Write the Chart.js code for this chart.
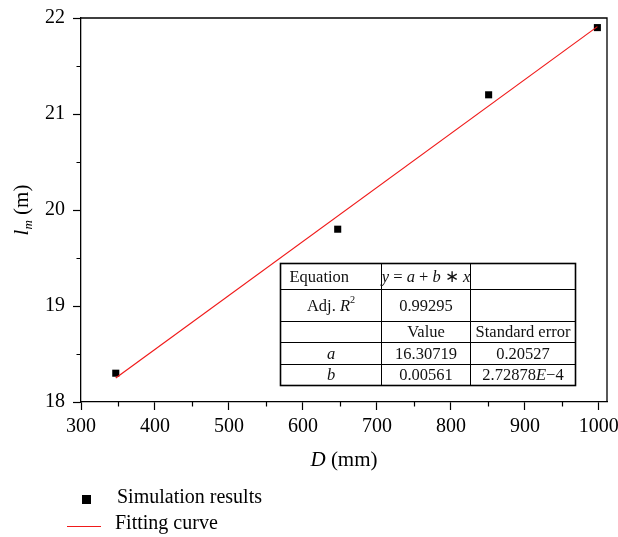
<!DOCTYPE html>
<html>
<head>
<meta charset="utf-8">
<script src="https://cdn.jsdelivr.net/npm/chart.js@4/dist/chart.umd.min.js"></script>
<style>
  html, body { margin: 0; padding: 0; background: #fff; }
  #wrap { width: 618px; height: 537px; }
</style>
</head>
<body>
<div id="wrap"><canvas id="chart1"></canvas></div>
<script>
// simulation points, D (mm) vs l_m (m)
const simD = [347, 647, 851, 998];
const simL = [18.3, 19.8, 21.2, 21.9];
// fitted line end points
const fitD = [347, 998];
const fitL = [18.25, 21.91];
// axis ticks
const xTicks = [300, 400, 500, 600, 700, 800, 900, 1000];
const xMinor = [350, 450, 550, 650, 750, 850, 950];
const yTicks = [18, 19, 20, 21, 22];
const yMinor = [18.5, 19.5, 20.5, 21.5];
// fit table text, runs: [text, italic, sup]
const tableRows = [
    [[['Equation']], [['y', 1], [' = '], ['a', 1], [' + '], ['b', 1], [' \u2217 '], ['x', 1]], []],
    [[['Adj. '], ['R', 1], ['2', 0, 1]], [['0.99295']], []],
    [[], [['Value']], [['Standard error']]],
    [[['a', 1]], [['16.30719']], [['0.20527']]],
    [[['b', 1]], [['0.00561']], [['2.72878'], ['E', 1], ['\u22124']]]
];

const SERIF = '"Liberation Serif", "Times New Roman", serif';

function runFont(r, size) {
    let s = r[2] ? size * 0.62 : size;
    return (r[1] ? 'italic ' : '') + s + 'px ' + SERIF;
}

function drawRuns(ctx, runs, x, y, align, size) {
    let total = 0;
    runs.forEach(function (r) {
        ctx.font = runFont(r, size);
        total += ctx.measureText(r[0]).width;
    });
    let cx = align == 'center' ? x - total / 2 : x;
    ctx.textBaseline = 'middle';
    ctx.textAlign = 'left';
    runs.forEach(function (r) {
        ctx.font = runFont(r, size);
        let dy = r[2] == 1 ? -size * 0.38 : (r[2] == 2 ? size * 0.3 : 0);
        ctx.fillText(r[0], cx, y + dy);
        cx += ctx.measureText(r[0]).width;
    });
}

const extras = {
    id: 'extras',
    afterDraw: function (chart) {
        const ctx = chart.ctx;
        const area = chart.chartArea;
        const xs = chart.scales.x;
        const ys = chart.scales.y;
        ctx.save();
        ctx.strokeStyle = '#000';
        ctx.fillStyle = '#000';

        // frame top + right
        ctx.lineWidth = 1.3;
        ctx.beginPath();
        ctx.moveTo(area.left, area.top);
        ctx.lineTo(area.right, area.top);
        ctx.lineTo(area.right, area.bottom);
        ctx.stroke();

        // minor ticks
        ctx.lineWidth = 1.2;
        ctx.beginPath();
        xMinor.forEach(function (v) {
            let px = Math.round(xs.getPixelForValue(v)) + 0.5;
            ctx.moveTo(px, area.bottom);
            ctx.lineTo(px, area.bottom + 4.5);
        });
        yMinor.forEach(function (v) {
            let py = Math.round(ys.getPixelForValue(v)) + 0.5;
            ctx.moveTo(area.left, py);
            ctx.lineTo(area.left - 4.5, py);
        });
        ctx.stroke();

        // fit table
        const w = area.right - area.left, h = area.bottom - area.top;
        const cols = [0.378, 0.5695, 0.739, 0.939].map(function (f) { return Math.round(area.left + f * w) + 0.5; });
        const rows = [0.637, 0.707, 0.79, 0.845, 0.9, 0.955].map(function (f) { return Math.round(area.top + f * h) + 0.5; });
        ctx.fillStyle = '#fff';
        ctx.fillRect(cols[0], rows[0], cols[3] - cols[0], rows[5] - rows[0]);
        ctx.lineWidth = 1;
        ctx.beginPath();
        rows.slice(1, 5).forEach(function (r) { ctx.moveTo(cols[0], r); ctx.lineTo(cols[3], r); });
        cols.slice(1, 3).forEach(function (c) { ctx.moveTo(c, rows[0]); ctx.lineTo(c, rows[5]); });
        ctx.stroke();
        ctx.lineWidth = 1.6;
        ctx.strokeRect(cols[0], rows[0], cols[3] - cols[0], rows[5] - rows[0]);
        ctx.fillStyle = '#111';
        tableRows.forEach(function (row, ri) {
            let cy = (rows[ri] + rows[ri + 1]) / 2 + 1;
            row.forEach(function (cell, ci) {
                if (!cell.length) return;
                if (ri == 0 && ci == 0) {
                    drawRuns(ctx, cell, cols[0] + 9, cy, 'left', 16.5);
                } else {
                    drawRuns(ctx, cell, (cols[ci] + cols[ci + 1]) / 2, cy, 'center', 16.5);
                }
            });
        });

        // axis titles
        ctx.fillStyle = '#000';
        drawRuns(ctx, [['D', 1], [' (mm)']], (area.left + area.right) / 2, area.bottom + 58, 'center', 21);
        ctx.save();
        ctx.translate(22, (area.top + area.bottom) / 2);
        ctx.rotate(-Math.PI / 2);
        drawRuns(ctx, [['l', 1], ['m', 1, 2], [' (m)']], 0, 0, 'center', 21);
        ctx.restore();

        // legend
        ctx.fillStyle = '#000';
        ctx.fillRect(82, 495, 9, 9);
        drawRuns(ctx, [['Simulation results']], 117, 498, 'left', 20);
        ctx.strokeStyle = '#f01a1a';
        ctx.lineWidth = 1.2;
        ctx.beginPath();
        ctx.moveTo(67, 526.5);
        ctx.lineTo(101, 526.5);
        ctx.stroke();
        drawRuns(ctx, [['Fitting curve']], 115, 524, 'left', 20);
        ctx.restore();
    }
};

var ctxChart1 = document.getElementById('chart1').getContext('2d');
var chart1 = new Chart(ctxChart1, {
    type: 'scatter',
    plugins: [extras],
    data: {
        datasets: [{
            type: 'line',
            label: 'Fitting curve',
            data: fitD.map(function (d, i) { return { x: d, y: fitL[i] }; }),
            borderColor: '#f01a1a',
            borderWidth: 1.2,
            pointRadius: 0,
            fill: false,
            order: 0
        }, {
            label: 'Simulation results',
            data: simD.map(function (d, i) { return { x: d, y: simL[i] }; }),
            pointStyle: 'rect',
            pointRadius: 5,
            backgroundColor: '#000',
            borderColor: '#000',
            borderWidth: 0,
            order: 1
        }]
    },
    options: {
        responsive: true,
        maintainAspectRatio: false,
        animation: false,
        layout: { padding: { left: 0, top: 18, right: 11, bottom: 0 } },
        plugins: {
            legend: { display: false },
            title: { display: false },
            tooltip: { enabled: false }
        },
        scales: {
            x: {
                type: 'linear',
                min: 300,
                max: 1011,
                afterBuildTicks: function (s) { s.ticks = xTicks.map(function (v) { return { value: v }; }); },
                afterFit: function (s) { s.height = 135; s.paddingLeft = 0; s.paddingRight = 0; },
                grid: { drawOnChartArea: false, drawTicks: true, tickLength: 8, color: '#000', tickWidth: 1.2 },
                border: { display: true, color: '#000', width: 1.3 },
                ticks: {
                    color: '#000', padding: 5, maxRotation: 0,
                    font: { family: SERIF, size: 20 },
                    callback: function (v) { return String(v); }
                }
            },
            y: {
                min: 18,
                max: 22,
                afterBuildTicks: function (s) { s.ticks = yTicks.map(function (v) { return { value: v }; }); },
                afterFit: function (s) { s.width = 81; s.paddingTop = 0; s.paddingBottom = 0; },
                grid: { drawOnChartArea: false, drawTicks: true, tickLength: 8, color: '#000', tickWidth: 1.2 },
                border: { display: true, color: '#000', width: 1.3 },
                ticks: { color: '#000', padding: 8, font: { family: SERIF, size: 20 } }
            }
        }
    }
});
</script>
</body>
</html>
